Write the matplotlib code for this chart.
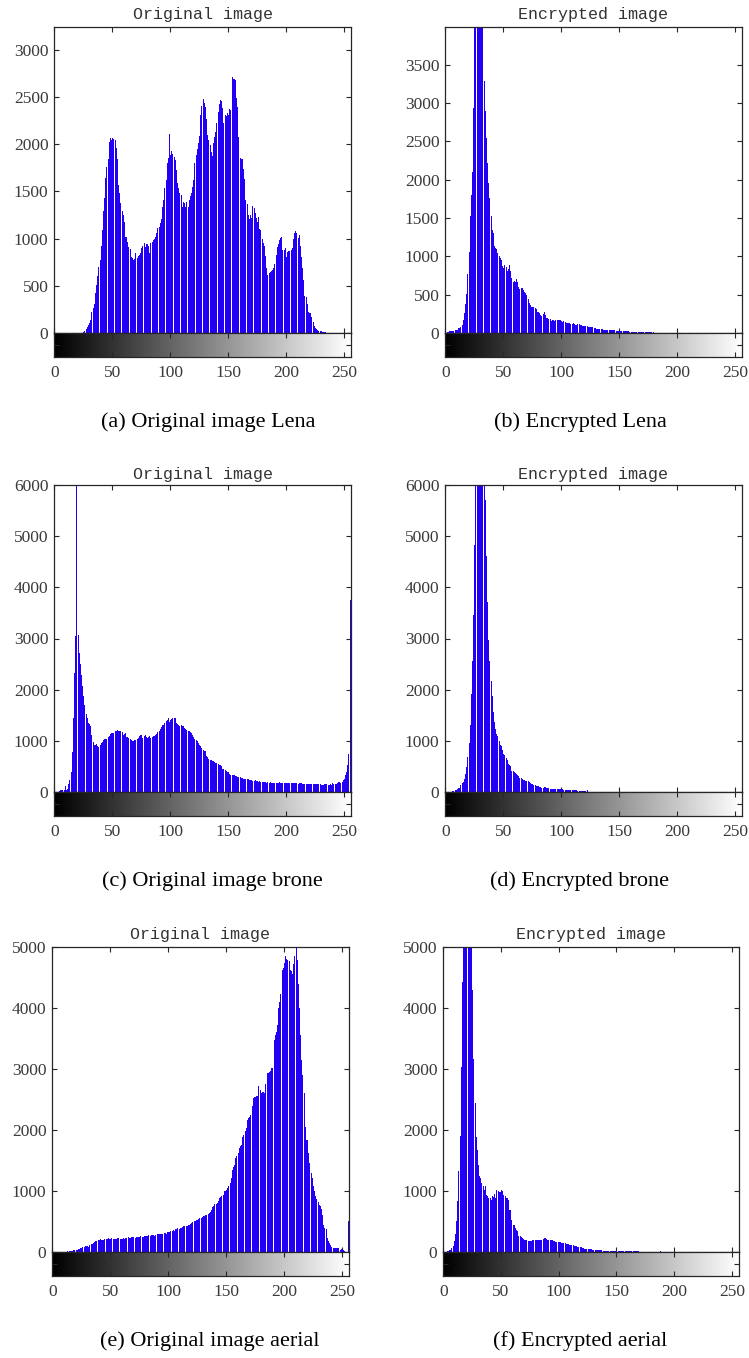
import numpy as np
import matplotlib
matplotlib.use('Agg')
import matplotlib.pyplot as plt

gray_levels = np.arange(256)

lena_orig = [
    0,0,0,0,0,0,0,0, 0,0,0,0,0,0,0,0,
    0,0,0,0,0,0,0,2, 5,10,20,40,60,85,110,140,
    226,260,307,420,508,604,700,773, 921,1090,1296,1430,1641,1754,1839,2026,
    2061,2040,2061,2054,2044,1956,1839,1567, 1479,1380,1292,1250,1180,1020,1020,960,
    914,886,808,790,773,780,851,790, 819,830,851,897,920,950,914,939,
    939,920,844,950,967,990,1000,1020, 1055,1115,1126,1170,1207,1338,1408,1539,
    1620,1797,1850,2104,1885,1931,1900,1867, 1832,1726,1592,1540,1486,1461,1338,1391,
    1380,1338,1391,1338,1408,1450,1479,1543, 1620,1797,1885,1950,2016,2090,2309,2404,
    2478,2440,2397,2263,2097,2040,1991,1920, 1878,2009,2080,2132,2227,2344,2425,2467,
    2457,2379,2220,2309,2300,2326,2309,2376, 2362,2708,2690,2685,2680,2492,2390,2079,
    1850,1845,1843,1733,1627,1408,1366,1250, 1204,1250,1220,1348,1320,1270,1214,1179,
    1228,1098,1091,1000,950,921,819,685, 614,639,650,660,670,685,731,826,
    914,939,980,1003,1013,879,880,897, 808,861,870,872,880,897,992,1062,
    1084,1055,1010,1038,920,808,685,561, 392,378,304,226,215,208,166,120,
    74,56,45,32,25,21,18,15, 12,10,8,5,3,2,1,0,
    0,0,0,0,0,0,0,0, 0,0,0,0,0,0,0,0,
]

lena_enc = [
    10,17,15,20,25,22,26,30, 35,39,45,61,65,74,105,170,
    257,380,506,772,1051,1530,1800,2097, 2939,4300,5000,5400,5500,5200,4700,4300,
    4000,3287,2900,2546,2219,1958,1761,1530, 1347,1304,1129,1107,1094,1042,998,977,
    955,868,846,881,860,805,833,881, 802,711,671,680,671,702,671,597,
    571,590,584,560,541,520,497,445, 388,360,344,340,344,323,310,279,
    272,266,240,227,250,270,235,200, 190,183,179,161,165,170,161,165,
    170,165,170,165,161,144,150,148, 135,135,130,126,122,118,126,113,
    110,105,115,120,110,105,96,94, 92,90,86,83,80,78,74,72,
    68,61,58,52,52,50,48,47, 45,44,42,40,39,38,38,36,
    35,35,33,30,29,28,27,26, 25,24,23,22,22,21,20,18,
    17,17,16,15,15,14,13,13, 12,13,11,10,10,9,9,8,
    8,10,12,13,5,4,3,2, 2,1,1,0,0,0,0,0,
    0,0,0,0,0,0,0,0, 0,0,0,0,0,0,0,0,
    0,0,0,0,0,0,0,0, 0,0,0,0,0,0,0,0,
    0,0,0,0,0,0,0,0, 0,0,0,0,0,0,0,0,
    0,0,0,0,0,0,0,0, 0,0,0,0,0,0,0,0,
]

brone_orig = [
    0,0,0,0,20,33,33,33, 33,111,40,65,150,229,392,784,
    1437,2318,3056,6500,3069,2723,2501,2286, 2070,1874,1698,1521,1450,1339,1320,1293,
    1110,980,914,920,934,901,882,914, 950,980,1012,1030,1045,1045,1077,1100,
    1130,1156,1160,1160,1195,1200,1208,1195, 1200,1195,1175,1110,1140,1160,1077,1070,
    1064,1045,1012,1005,999,1010,1025,1040, 1064,1090,1110,1110,1064,1100,1110,1077,
    1064,1080,1090,1064,1077,1090,1100,1123, 1143,1175,1200,1228,1273,1300,1319,1352,
    1380,1404,1437,1371,1400,1417,1437,1440, 1450,1339,1320,1306,1293,1300,1293,1286,
    1260,1230,1208,1195,1195,1180,1156,1120, 1077,1045,1020,993,960,914,890,869,
    816,810,803,699,680,653,633,620, 615,607,588,575,568,542,530,522,
    503,457,450,437,411,392,392,359, 340,327,327,327,320,307,294,294,
    294,281,275,261,261,255,248,248, 229,229,229,215,220,229,215,210,
    196,210,196,200,205,196,190,183, 196,183,196,183,183,176,183,183,
    183,183,190,176,176,180,183,176, 176,176,183,183,176,176,183,176,
    176,176,163,170,176,176,163,163, 163,163,163,163,150,163,150,150,
    163,163,163,150,150,150,131,131, 131,150,160,150,131,131,150,131,
    176,160,150,163,176,190,196,176, 200,229,261,330,392,522,751,3755,
]

brone_enc = [
    0,0,0,0,0,5,10,15, 30,46,65,75,85,131,170,196,
    261,346,490,686,960,1306,1913,2560, 3461,4832,6300,7000,7500,8000,8000,7600,
    7000,6500,5714,4617,3722,2971,2560,2174, 1874,1554,1371,1241,1143,1090,990,927,
    895,816,751,718,670,620,555,530, 503,411,411,390,372,359,330,307,
    281,270,261,242,230,215,215,209, 190,176,163,150,144,131,125,118,
    111,98,90,85,85,90,98,78, 78,78,65,65,65,65,52,52,
    52,58,60,65,52,50,48,46, 44,42,39,38,36,33,33,33,
    33,30,26,26,26,26,24,22, 20,25,33,7,3,0,0,0,
    0,0,0,0,0,0,0,0, 0,0,0,0,0,0,0,0,
    0,0,0,0,0,0,0,0, 0,0,0,0,0,0,0,0,
    0,0,0,0,0,0,0,0, 0,0,0,0,0,0,0,0,
    0,0,0,0,0,0,0,0, 0,0,0,0,0,0,0,0,
    0,0,0,0,0,0,0,0, 0,0,0,0,0,0,0,0,
    0,0,0,0,0,0,0,0, 0,0,0,0,0,0,0,0,
    0,0,0,0,0,0,0,0, 0,0,0,0,0,0,0,0,
    0,0,0,0,0,0,0,0, 0,0,0,0,0,0,0,0,
]

aerial_orig = [
    0,0,0,0,0,0,0,0, 0,0,0,0,5,10,15,18,
    22,22,38,30,27,35,49,55, 65,60,75,82,93,100,104,80,
    120,128,136,150,158,175,185,191, 200,210,202,200,191,205,213,205,
    229,215,210,229,218,215,212,218, 229,225,213,215,218,229,213,229,
    229,240,229,235,240,240,240,229, 245,240,240,245,256,250,245,256,
    260,267,256,273,270,276,284,273, 270,284,290,294,290,294,298,300,
    311,305,300,322,322,330,338,345, 354,352,376,380,393,376,393,400,
    409,420,420,431,420,440,447,463, 474,490,502,515,529,525,545,550,
    556,575,594,594,600,611,622,638, 660,693,736,760,785,785,800,829,
    883,894,920,938,992,1000,1020,1047, 1090,1129,1211,1347,1390,1429,1538,1580,
    1620,1701,1740,1756,1892,1919,1980,2028, 2165,2200,2219,2247,2400,2519,2547,2540,
    2550,2557,2721,2650,2601,2628,2620,2610, 2748,2928,2940,2955,2972,3010,3010,3474,
    3555,3600,3719,4000,4100,4237,4619,4650, 4739,4848,4800,4782,4771,4619,4600,4564,
    4728,4850,5100,4793,4400,4008,3555,3146, 2900,2612,2045,1838,1838,1620,1456,1300,
    1211,1074,1000,911,870,820,774,747, 700,611,447,400,376,229,180,147,
    120,76,65,65,65,65,60,65, 38,49,45,40,11,0,0,502,
]

aerial_enc = [
    0,0,5,11,22,30,38,65, 104,174,300,502,829,1336,1903,3037,
    4428,5500,6200,6800,7000,6800,6300,5800, 5300,4302,3157,2448,1892,1674,1429,1249,
    1211,1129,1074,1009,1074,938,922,883, 883,856,911,894,954,883,1020,992,
    976,976,1009,992,938,922,883,883, 856,693,682,529,447,447,393,354,
    338,267,267,245,229,213,202,191, 191,174,174,174,180,191,191,191,
    191,191,191,191,191,202,213,229, 229,213,202,202,202,191,191,174,
    174,165,158,158,158,158,150,147, 147,140,136,136,130,120,120,120,
    110,104,95,93,85,82,82,76, 70,65,55,55,50,49,49,49,
    45,38,38,34,30,27,27,27, 27,25,24,22,22,22,22,22,
    22,20,18,16,16,16,16,14, 12,11,11,11,11,11,11,11,
    11,11,11,11,11,11,11,11, 11,11,5,0,0,0,0,0,
    0,0,0,0,0,0,0,0, 0,0,0,0,11,0,0,0,
    0,0,0,0,0,0,0,0, 0,0,0,0,0,0,0,0,
    0,0,0,0,0,0,0,0, 0,0,0,0,0,0,0,0,
    0,0,0,0,0,0,0,0, 0,0,0,0,0,0,0,0,
    0,0,0,0,0,0,0,0, 0,0,0,0,0,0,0,0,
]

titles = ["Original image", "Encrypted image"] * 3
captions = ["(a) Original image Lena", "(b) Encrypted Lena",
            "(c) Original image brone", "(d) Encrypted brone",
            "(e) Original image aerial", "(f) Encrypted aerial"]
series = [lena_orig, lena_enc, brone_orig, brone_enc, aerial_orig, aerial_enc]
y_max = [3240, 3990, 6000, 6000, 5000, 5000]
y_ticks = [np.arange(0, 3001, 500), np.arange(0, 3501, 500),
           np.arange(0, 6001, 1000), np.arange(0, 6001, 1000),
           np.arange(0, 5001, 1000), np.arange(0, 5001, 1000)]
x_ticks = np.arange(0, 251, 50)

W, H = 749, 1358
fig = plt.figure(figsize=(W / 100, H / 100), dpi=100)

# pixel layout: (left, right, top, zero line, bottom)
layout = [
    (54, 351, 27, 333, 357), (445, 742, 27, 333, 357),
    (54, 351, 485, 792, 816), (445, 742, 485, 792, 816),
    (52, 349, 947, 1252, 1276), (443, 739, 947, 1252, 1276),
]
title_y = [15, 15, 474, 474, 934, 934]
caption_pos = [(208, 422), (580, 422), (212, 881), (580, 881), (210, 1341), (580, 1341)]

BLUE = '#2100F5'
AX_COL = '#262626'
TICK_TXT = '#3a3a3a'
tick_font = dict(family='Liberation Serif', size=12.5)
XLIM = (-0.3, 256.2)

gradient = np.linspace(0, 1, 256).reshape(1, -1)

for i in range(6):
    l, r, t, z, b = layout[i]
    ax = fig.add_axes([l / W, 1 - z / H, (r - l) / W, (z - t) / H])
    cax = fig.add_axes([l / W, 1 - b / H, (r - l) / W, (b - z) / H])

    ax.vlines(gray_levels, 0, series[i], colors=BLUE, linewidth=0.68,
              antialiased=False)
    ax.set_xlim(*XLIM)
    ax.set_ylim(0, y_max[i])
    ax.set_yticks(y_ticks[i])
    ax.set_yticklabels([str(v) for v in y_ticks[i]], fontdict=tick_font, color=TICK_TXT)
    ax.set_xticks(x_ticks)
    ax.set_xticklabels([])
    ax.tick_params(direction='in', top=True, right=True, length=3.5,
                   width=0.8, color=AX_COL, pad=4)
    for s in ax.spines.values():
        s.set_color(AX_COL)
        s.set_linewidth(0.9)

    cax.imshow(gradient, cmap='gray', aspect='auto', extent=[0, 256, 0, 1],
               interpolation='bilinear')
    cax.set_xlim(*XLIM)
    cax.set_ylim(0, 1)
    cax.set_xticks(x_ticks)
    cax.set_xticklabels([str(v) for v in x_ticks], fontdict=tick_font, color=TICK_TXT)
    cax.set_yticks([0.5])
    cax.set_yticklabels([])
    cax.tick_params(direction='in', top=True, right=True, left=True, length=3.5,
                    width=0.8, color=AX_COL, pad=6)
    for s in cax.spines.values():
        s.set_color(AX_COL)
        s.set_linewidth(0.9)

    fig.text((l + r) / 2 / W, 1 - title_y[i] / H, titles[i], ha='center', va='center',
             family='Liberation Mono', fontsize=12, color='#333333')
    cx, cy = caption_pos[i]
    fig.text(cx / W, 1 - cy / H, captions[i], ha='center', va='center',
             family='Liberation Serif', fontsize=16, color='black')

fig.savefig('out.png', dpi=100)
